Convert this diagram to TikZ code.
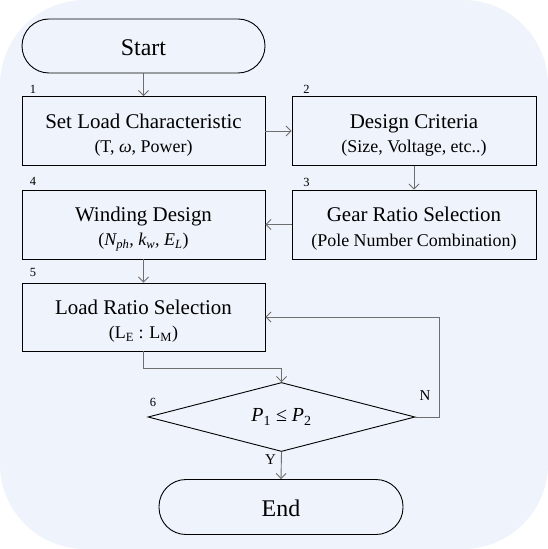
\documentclass[tikz,border=0pt]{standalone}
\usepackage{fontspec}
\setmainfont{Liberation Serif}
\usetikzlibrary{shapes.geometric,arrows.meta}
\definecolor{bgc}{HTML}{EFF3FB}
\definecolor{conn}{HTML}{6E6E6E}
\tikzset{
  box/.style={draw=black, line width=0.9bp, rectangle, minimum width=243bp, minimum height=69bp, inner sep=0pt, align=center, font=\fontsize{21}{25}\selectfont},
  term/.style={draw=black, line width=0.9bp, rectangle, rounded corners=27bp, minimum width=243bp, minimum height=54bp, inner sep=0pt, font=\fontsize{24}{28}\selectfont},
  dec/.style={draw=black, line width=0.9bp, diamond, aspect=3.87, minimum width=267bp, minimum height=69bp, inner sep=0pt, font=\fontsize{20}{24}\selectfont},
  conn/.style={draw=conn, line width=0.9bp, -{Straight Barb[length=5bp,width=10bp]}},
  numlab/.style={font=\fontsize{12.5}{14}\selectfont, inner sep=0pt},
  ynlab/.style={font=\fontsize{15}{17}\selectfont, inner sep=0pt}
}
\newcommand{\smallline}[1]{{\fontsize{18}{22}\selectfont #1}}
\newcommand{\topstrut}{\rule{0pt}{23bp}}
\begin{document}
\begin{tikzpicture}[x=1bp,y=-1bp]
\useasboundingbox (0,0) rectangle (548,549);
\fill[bgc, rounded corners=85bp] (0,0) rectangle (548,549);

\node[term] (start) at (143.5,46) {\rule{0pt}{20bp}Start};
\node[box] (b1) at (143.5,131) {\topstrut Set Load Characteristic\\[-0.5bp]\smallline{(T, \textit{ω}, Power)}};
\node[box, minimum width=244bp] (b2) at (414,131) {\topstrut Design Criteria\\[-0.5bp]\smallline{(Size, Voltage, etc..)}};
\node[box, minimum width=244bp] (b3) at (414,224.5) {\topstrut Gear Ratio Selection\\[-0.5bp]\smallline{(Pole Number Combination)}};
\node[box] (b4) at (143.5,224.5) {\topstrut Winding Design\\[-0.5bp]\smallline{(\textit{N\textsubscript{ph}, k\textsubscript{w}, E\textsubscript{L}})}};
\node[box, minimum height=68bp] (b5) at (143.5,317) {\topstrut Load Ratio Selection\\[-0.5bp]\smallline{(L\textsubscript{E} : L\textsubscript{M})}};
\node[dec] (d6) at (281.5,417) {\textit{P}\textsubscript{1} ≤ \textit{P}\textsubscript{2}};
\node[term, minimum width=244bp, minimum height=55bp] (end) at (281,507) {\rule{0pt}{20bp}End};

\node[numlab] (n1) at (33,89) {1};
\node[numlab] (n2) at (306.5,89) {2};
\node[numlab] (n3) at (306.5,182) {3};
\node[numlab] (n4) at (33,181) {4};
\node[numlab] (n5) at (33,272) {5};
\node[numlab] (n6) at (153,402) {6};

\draw[conn] (start.south) -- (b1.north);
\draw[conn] (b1.east) -- (b2.west);
\draw[conn] (b2.south) -- (b3.north);
\draw[conn] (b3.west) -- (b4.east);
\draw[conn] (b4.south) -- (b5.north);
\draw[conn] (b5.south) -- ++(0,16.5) -| (d6.north);
\draw[conn] (d6.east) -- ++(24,0) |- (b5.east);
\draw[conn] (d6.south) -- (end.north);

\node[ynlab] (lN) at (425,396) {N};
\node[ynlab] (lY) at (270.5,460) {Y};
\end{tikzpicture}
\end{document}
